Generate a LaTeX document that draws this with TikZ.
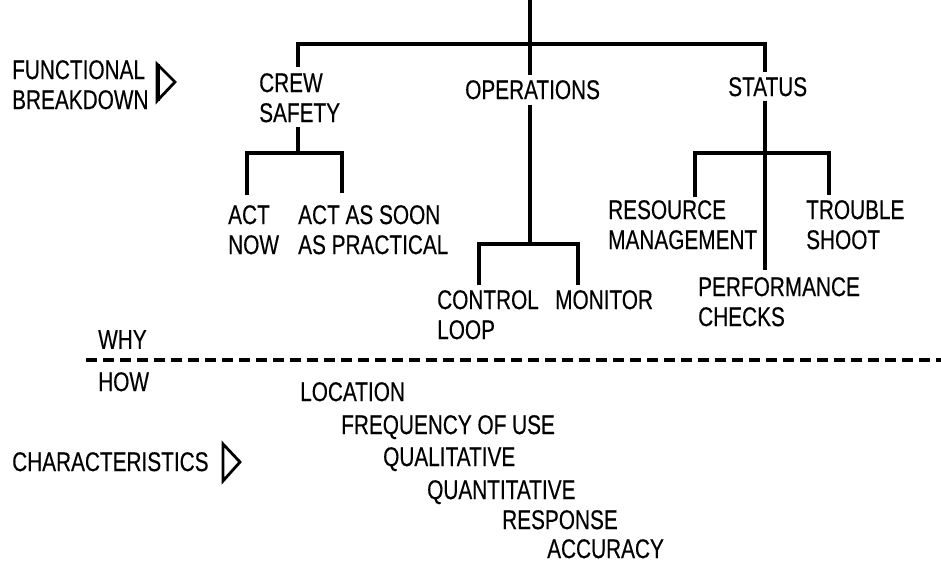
\documentclass[tikz,border=0pt]{standalone}
\usepackage{fontspec}
\setmainfont[FakeStretch=0.77,FakeBold=0.3]{Liberation Sans}
\newcommand\lblfont{\fontsize{27}{30}\selectfont}
\begin{document}
\begin{tikzpicture}[x=1pt,y=-1pt,
  lbl/.style={anchor=north west, inner sep=0pt, align=left, font=\lblfont},
  conn/.style={line width=3.4pt, line cap=butt, line join=miter},
  dashline/.style={line width=3.4pt, dash pattern=on 11pt off 6pt},
  tri/.style={line width=2.8pt, line join=miter, fill=white}]
\fill[white] (0,0) rectangle (941,564);
\useasboundingbox (0,0) rectangle (941,564);

% labels
\node[lbl] (fb) at (12,60) {FUNCTIONAL\\BREAKDOWN};
\node[lbl] (crew) at (259,73) {CREW\\SAFETY};
\node[lbl] (ops) at (465,80) {OPERATIONS};
\node[lbl] (status) at (728,77) {STATUS};
\node[lbl] (actnow) at (228,205) {ACT\\NOW};
\node[lbl] (actsoon) at (298,205) {ACT AS SOON\\AS PRACTICAL};
\node[lbl] (control) at (437,290) {CONTROL\\LOOP};
\node[lbl] (monitor) at (555,290) {MONITOR};
\node[lbl] (resource) at (608,200) {RESOURCE\\MANAGEMENT};
\node[lbl] (trouble) at (806,200) {TROUBLE\\SHOOT};
\node[lbl] (perf) at (698,277) {PERFORMANCE\\CHECKS};
\node[lbl] (why) at (98,330) {WHY};
\node[lbl] (how) at (98,372) {HOW};
\node[lbl] (loc) at (300,382) {LOCATION};
\node[lbl] (freq) at (341,415) {FREQUENCY OF USE};
\node[lbl] (qual) at (383,447) {QUALITATIVE};
\node[lbl] (quant) at (427,480) {QUANTITATIVE};
\node[lbl] (resp) at (502,510) {RESPONSE};
\node[lbl] (acc) at (547,539) {ACCURACY};
\node[lbl] (char) at (12,452) {CHARACTERISTICS};

% junction coordinates
\coordinate (root) at (530,0);
\coordinate (topbar) at (530,44);
\coordinate (cj) at (298,153);
\coordinate (crewL) at (247,195);
\coordinate (crewR) at (342,193);
\coordinate (oj) at (530,244);
\coordinate (ctlT) at (479,285);
\coordinate (monT) at (578,285);
\coordinate (sj) at (765,153);
\coordinate (resT) at (695,197);
\coordinate (troT) at (829,195);
\coordinate (dl) at (86,360);
\coordinate (dr) at (941,360);

% top level
\draw[conn] (root) -- ([yshift=5pt]root |- ops.north);
\draw[conn] ([yshift=6pt]crew.north -| cj) |- (topbar) -| ([yshift=5pt]status.north -| sj);

% crew safety branch
\draw[conn] ([yshift=-4pt]crew.south -| cj) -- (cj);
\draw[conn] (crewL) |- (cj) -| (crewR);

% operations branch
\draw[conn] ([yshift=-5pt]ops.south -| oj) -- (oj);
\draw[conn] (ctlT) |- (oj) -| (monT);

% status branch
\draw[conn] ([yshift=-4pt]status.south -| sj) -- ([yshift=7pt]perf.north -| sj);
\draw[conn] (resT) |- (sj) -| (troT);

% why / how divider
\draw[dashline] (dl) -- (dr);

% pointer triangles
\draw[tri] (157,64) -- (157,101) -- (175,82) -- cycle;
\draw[line width=4.5pt] (158,64) -- (158,101);
\draw[tri] (223,444) -- (223,481) -- (240,462) -- cycle;
\end{tikzpicture}
\end{document}
